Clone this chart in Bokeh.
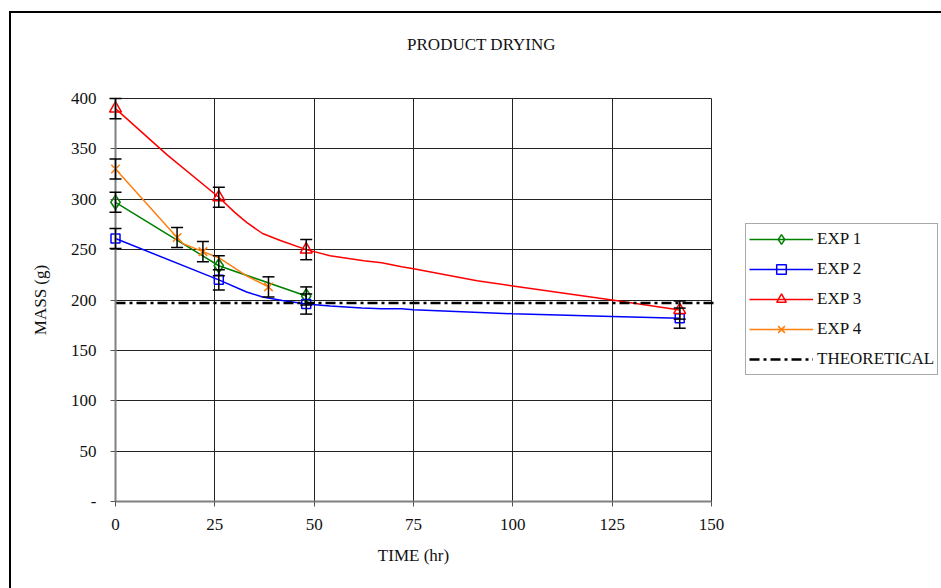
from bokeh.plotting import figure
from bokeh.models import (ColumnDataSource, Whisker, TeeHead, Legend, LegendItem,
                          FixedTicker, Label, Range1d, InlineStyleSheet)
from bokeh.embed import file_html
from bokeh.resources import INLINE

# ---------------- data ----------------
title_text = "PRODUCT DRYING"
x_label = "TIME (hr)"
y_label = "MASS (g)"
x_ticks = [0, 25, 50, 75, 100, 125, 150]
y_ticks = [0, 50, 100, 150, 200, 250, 300, 350, 400]

exp1_line_x = [0, 26, 48]
exp1_line_y = [297, 234, 204]
exp1_pt_x = [0, 26, 48]
exp1_pt_y = [297, 234, 204]

exp2_line_x = [0, 26, 33, 37, 42, 48, 54, 62, 67, 72, 75, 100, 125, 142]
exp2_line_y = [261, 220, 208, 203, 199.5, 196, 194, 192, 191.3, 191.3, 190.3, 186.3, 183.6, 182]
exp2_pt_x = [0, 26, 48, 142]
exp2_pt_y = [261, 220, 196, 182]

exp3_line_x = [0, 13, 26, 30, 33, 37, 41.5, 48, 54, 62.5, 67, 72, 75, 91, 100, 125, 142]
exp3_line_y = [390, 344, 302, 287, 277, 266, 259, 250, 244, 239, 237, 233, 231, 219, 214, 200, 190]
exp3_pt_x = [0, 26, 48, 142]
exp3_pt_y = [390, 302, 250, 190]

exp4_line_x = [0, 15.5, 17, 22, 26, 33, 38.5]
exp4_line_y = [330, 262, 256, 248, 242, 224, 213]
exp4_pt_x = [0, 15.5, 22, 38.5]
exp4_pt_y = [330, 262, 248, 213]

theo_x = [0, 151]
theo_y = [197, 197]

err_x = [0, 0, 0, 0, 26, 26, 26, 48, 48, 48, 142, 142, 15.5, 22, 38.5]
err_y = [297, 261, 390, 330, 234, 220, 302, 204, 196, 250, 182, 190, 262, 248, 213]
err_e = [10, 10, 10, 10, 10, 10, 10, 9, 10, 10, 10, 9, 10, 10, 10]

# ---------------- figure ----------------
FONT = "Liberation Serif"
W, H = 941, 588
AXIS_X, AXIS_Y = 115, 501        # pixel position of the data origin (0, 0)
X_MAX, Y_MAX = 150, 400          # visible data box of the chart
X_PX, Y_PX = 596, 403            # pixel size of that data box
xs = X_MAX / X_PX                # data units per pixel (x)
ys = Y_MAX / Y_PX                # data units per pixel (y)

border_css = InlineStyleSheet(css="""
:host::after {
  content: '';
  position: absolute;
  left: 9px; top: 11px; right: 0; bottom: 0;
  border-left: 2px solid black;
  border-top: 2px solid black;
  pointer-events: none;
  z-index: 10;
}
""")
p = figure(width=W, height=H, output_backend="svg", toolbar_location=None,
           x_range=Range1d(-AXIS_X * xs, (W - AXIS_X) * xs),
           y_range=Range1d(-(H - AXIS_Y) * ys, AXIS_Y * ys),
           min_border_left=0, min_border_right=0, min_border_top=0,
           min_border_bottom=0, stylesheets=[border_css])
p.background_fill_color = "white"
p.border_fill_color = "white"
p.outline_line_color = None

for ax in (p.xaxis[0], p.yaxis[0]):
    ax.axis_line_color = "#808080"
    ax.axis_line_width = 2
    ax.major_tick_line_color = "#555555"
    ax.major_tick_line_width = 1
    ax.major_tick_out = 5
    ax.major_tick_in = 0
    ax.minor_tick_line_color = None
    ax.major_label_text_font = FONT
    ax.major_label_text_font_size = "17px"
    ax.major_label_text_color = "#111111"
    ax.axis_label_text_font = FONT
    ax.axis_label_text_font_size = "17px"
    ax.axis_label_text_font_style = "normal"
    ax.axis_label_text_color = "#111111"

p.xaxis.ticker = FixedTicker(ticks=x_ticks)
p.yaxis.ticker = FixedTicker(ticks=y_ticks)
p.xaxis.bounds = (0, X_MAX)
p.yaxis.bounds = (0, Y_MAX)
p.xaxis.fixed_location = 0
p.yaxis.fixed_location = 0
p.yaxis.major_label_overrides = {0: "-"}
p.xaxis.axis_label = x_label
p.yaxis.axis_label = y_label
p.xaxis.major_label_standoff = 12
p.yaxis.major_label_standoff = 14
p.xaxis.axis_label_standoff = 13
p.yaxis.axis_label_standoff = 18

p.xgrid.grid_line_color = "#222222"
p.ygrid.grid_line_color = "#222222"
p.xgrid.grid_line_width = 1
p.ygrid.grid_line_width = 1
p.xgrid.cross_bounds = (0, Y_MAX)
p.ygrid.cross_bounds = (0, X_MAX)

# ---------------- series ----------------
l1 = p.line(exp1_line_x, exp1_line_y, line_color="green", line_width=1.5)
m1 = p.scatter(exp1_pt_x, exp1_pt_y, marker="diamond", size=14, line_color="green",
               line_width=1.5, fill_color=None)
l2 = p.line(exp2_line_x, exp2_line_y, line_color="blue", line_width=1.5)
m2 = p.scatter(exp2_pt_x, exp2_pt_y, marker="square", size=9, line_color="blue",
               line_width=1.5, fill_color=None)
l3 = p.line(exp3_line_x, exp3_line_y, line_color="red", line_width=1.5)
m3 = p.scatter(exp3_pt_x, exp3_pt_y, marker="triangle", size=12, line_color="red",
               line_width=1.5, fill_color=None)
l4 = p.line(exp4_line_x, exp4_line_y, line_color="#FF7F0E", line_width=1.5)
m4 = p.scatter(exp4_pt_x, exp4_pt_y, marker="x", size=12, line_color="#FF7F0E",
               line_width=1.5)
lt = p.line(theo_x, theo_y, line_color="black", line_width=2.5, line_dash="10 4 3 4")

err_src = ColumnDataSource(dict(
    x=err_x,
    upper=[y + e for y, e in zip(err_y, err_e)],
    lower=[y - e for y, e in zip(err_y, err_e)],
))
wh = Whisker(source=err_src, base="x", upper="upper", lower="lower",
             dimension="height", line_color="black", line_width=1.5, level="annotation",
             upper_head=TeeHead(size=12, line_color="black", line_width=1.5),
             lower_head=TeeHead(size=12, line_color="black", line_width=1.5))
p.add_layout(wh)

# ---------------- title ----------------
p.add_layout(Label(x=92.1, y=453.6, text=title_text, text_align="center",
                   text_baseline="alphabetic", text_font=FONT, text_font_size="17px",
                   text_color="#111111"))

# ---------------- legend ----------------
legend = Legend(items=[
    LegendItem(label="EXP 1", renderers=[l1, m1]),
    LegendItem(label="EXP 2", renderers=[l2, m2]),
    LegendItem(label="EXP 3", renderers=[l3, m3]),
    LegendItem(label="EXP 4", renderers=[l4, m4]),
    LegendItem(label="THEORETICAL", renderers=[lt]),
], location=(745, 213), orientation="vertical")
legend.label_text_font = FONT
legend.label_text_font_size = "17px"
legend.label_text_color = "#111111"
legend.glyph_width = 64
legend.glyph_height = 24
legend.label_height = 24
legend.label_standoff = 4
legend.spacing = 6
legend.padding = 3
legend.margin = 0
legend.border_line_color = "#555555"
legend.border_line_width = 1
legend.background_fill_color = "white"
legend.background_fill_alpha = 1
p.add_layout(legend)

open("out.html", "w").write(file_html(p, INLINE))
